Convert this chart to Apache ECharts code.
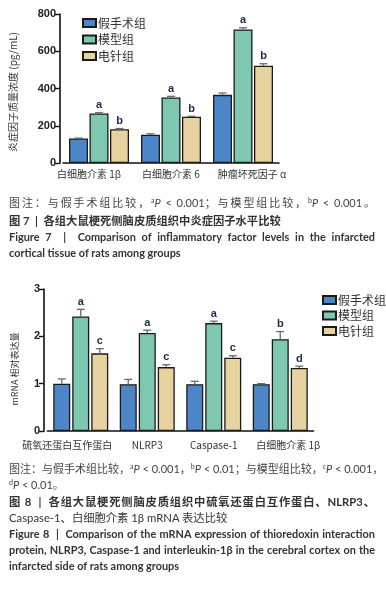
<!DOCTYPE html>
<html><head><meta charset="utf-8">
<script src="https://cdn.jsdelivr.net/npm/echarts@6/dist/echarts.min.js"></script>
<style>
html,body{margin:0;padding:0;background:#fff;}
#wrap{position:relative;width:386px;height:589px;overflow:hidden;}
#c{position:absolute;left:0;top:0;width:386px;height:589px;}
.cap{position:absolute;left:9px;width:366px;line-height:16px;white-space:nowrap;font-family:Lato,"Noto Sans CJK SC",sans-serif;}
.j{text-align:justify;text-align-last:justify;}
.note{font-size:11px;color:#444;}
.cn{font-size:11.3px;color:#333;font-weight:bold;}
.en{font-size:10.9px;color:#333;font-weight:bold;}
sup{font-size:7px;vertical-align:4px;line-height:0;}
i{font-style:italic;}
</style></head>
<body><div id="wrap"><div id="c"></div>
<div class="cap note j" style="top:195px;">图注：与假手术组比较，<sup>a</sup><i>P</i> &lt; 0.001；与模型组比较，<sup>b</sup><i>P</i> &lt; 0.001。</div>
<div class="cap cn" style="top:213px;">图 7&nbsp; | &nbsp;各组大鼠梗死侧脑皮质组织中炎症因子水平比较</div>
<div class="cap en j" style="top:229px;">Figure 7 &nbsp;| &nbsp;Comparison of inflammatory factor levels in the infarcted</div>
<div class="cap en" style="top:245px;">cortical tissue of rats among groups</div>
<div class="cap note j" style="top:461px;">图注：与假手术组比较，<sup>a</sup><i>P</i> &lt; 0.001，<sup>b</sup><i>P</i> &lt; 0.01；与模型组比较，<sup>c</sup><i>P</i> &lt; 0.001，</div>
<div class="cap note" style="top:477px;"><sup>d</sup><i>P</i> &lt; 0.01。</div>
<div class="cap cn j" style="top:494px;">图 8&nbsp; | &nbsp;各组大鼠梗死侧脑皮质组织中硫氧还蛋白互作蛋白、NLRP3、</div>
<div class="cap cn" style="top:510px;font-weight:normal;">Caspase-1、白细胞介素 1β mRNA 表达比较</div>
<div class="cap en j" style="top:526px;">Figure 8 &nbsp;| &nbsp;Comparison of the mRNA expression of thioredoxin interaction</div>
<div class="cap en j" style="top:542px;">protein, NLRP3, Caspase-1 and interleukin-1β in the cerebral cortex on the</div>
<div class="cap en" style="top:558px;">infarcted side of rats among groups</div>
</div>
<script>
// ---- Figure 7 data ----
const categories7 = ['白细胞介素 1β', '白细胞介素 6', '肿瘤坏死因子 α'];
const sham7 = [132, 152, 366];
const model7 = [266, 352, 717];
const ea7 = [181, 248, 522];
const sham7Err = [2, 5, 10];
const model7Err = [4, 6, 9];
const ea7Err = [4, 3, 11];
const sham7Sig = ['', '', ''];
const model7Sig = ['a', 'a', 'a'];
const ea7Sig = ['b', 'b', 'b'];
const yTicks7 = [0, 200, 400, 600, 800];

// ---- Figure 8 data ----
const categories8 = ['硫氧还蛋白互作蛋白', 'NLRP3', 'Caspase-1', '白细胞介素 1β'];
const sham8 = [1.00, 0.99, 0.99, 0.99];
const model8 = [2.42, 2.07, 2.28, 1.94];
const ea8 = [1.64, 1.35, 1.55, 1.33];
const sham8Err = [0.10, 0.10, 0.06, 0.01];
const model8Err = [0.15, 0.06, 0.04, 0.16];
const ea8Err = [0.10, 0.05, 0.04, 0.04];
const sham8Sig = ['', '', '', ''];
const model8Sig = ['a', 'a', 'a', 'b'];
const ea8Sig = ['c', 'c', 'c', 'd'];
const yTicks8 = [0, 1, 2, 3];

const groupNames = ['假手术组', '模型组', '电针组'];
const colors = ['#4c86c8', '#7ec8b1', '#e6d3a0'];

const chart = echarts.init(document.getElementById('c'));

function bar(name, data, gi, ci, bw, gap) {
  return {
    type: 'bar', name: name, data: data, xAxisIndex: gi, yAxisIndex: gi,
    barWidth: bw, barGap: (gap / bw * 100) + '%',
    itemStyle: { color: colors[ci], borderColor: '#1a1a1a', borderWidth: 1.3 },
    z: 2
  };
}
function errs(vals, e, sig, gi, ci, bw, gap) {
  const data = vals.map((v, i) => [i, v, e[i], sig[i]]);
  return {
    type: 'custom', xAxisIndex: gi, yAxisIndex: gi, z: 3, silent: true,
    data: data,
    renderItem: function (params, api) {
      const off = (ci - 1) * (bw + gap);
      const top = api.coord([api.value(0), api.value(1) + api.value(2)]);
      const base = api.coord([api.value(0), api.value(1)]);
      const x = top[0] + off;
      const letter = data[params.dataIndex][3];
      const ch = [
        { type: 'line', shape: { x1: x, y1: base[1], x2: x, y2: top[1] }, style: { stroke: '#6a6a6a', lineWidth: 1.3 } },
        { type: 'line', shape: { x1: x - 4, y1: top[1], x2: x + 4, y2: top[1] }, style: { stroke: '#6a6a6a', lineWidth: 1.3 } }
      ];
      if (letter) {
        ch.push({ type: 'text', style: { text: letter, x: x, y: top[1] - 2, align: 'center', verticalAlign: 'bottom',
          font: 'bold 11px "Liberation Sans", Arial, sans-serif', fill: '#1c2a4a' } });
      }
      return { type: 'group', children: ch };
    }
  };
}

const axisLineStyle = { lineStyle: { color: '#111', width: 1.6 } };
const yLabel = { color: '#222', fontSize: 11, fontWeight: 'bold', fontFamily: '"Liberation Sans", Arial, sans-serif', margin: 4 };
const xLabFont = { fontSize: 10, color: '#333', fontFamily: '"Noto Sans CJK SC", sans-serif' };

chart.setOption({
  animation: false,
  grid: [
    { left: 63, top: 14, width: 216, height: 149 },
    { left: 47.5, top: 289, width: 266, height: 142 }
  ],
  legend: [
    { data: groupNames, orient: 'vertical', left: 77, top: 12, itemWidth: 13, itemHeight: 8, itemGap: 4.5, icon: 'rect',
      textStyle: { fontSize: 12, color: '#333', padding: [0, 0, 0, -3], fontFamily: '"Noto Sans CJK SC", sans-serif' } },
    { data: groupNames, orient: 'vertical', left: 317, top: 289, itemWidth: 13, itemHeight: 8, itemGap: 3.5, icon: 'rect',
      textStyle: { fontSize: 12, color: '#333', padding: [0, 0, 0, -3], fontFamily: '"Noto Sans CJK SC", sans-serif' } }
  ],
  xAxis: [
    { type: 'category', gridIndex: 0, data: categories7, axisLine: axisLineStyle,
      axisTick: { alignWithLabel: true, length: 5, lineStyle: { color: '#111', width: 1.4 } },
      axisLabel: Object.assign({ interval: 0, margin: 6,
        formatter: (v, i) => i === 0 ? '{l|' + v + '}' : i === 2 ? '{r|' + v + '}' : '{n|' + v + '}',
        rich: { l: Object.assign({ padding: [0, 20, 0, 0] }, xLabFont), r: Object.assign({ padding: [0, 0, 0, 18] }, xLabFont), n: Object.assign({}, xLabFont) } }, xLabFont) },
    { type: 'category', gridIndex: 1, data: categories8, axisLine: axisLineStyle,
      axisTick: { alignWithLabel: true, length: 5, lineStyle: { color: '#111', width: 1.4 } },
      axisLabel: Object.assign({ interval: 0, margin: 9,
        formatter: (v, i) => i === 0 ? '{l|' + v + '}' : i === 3 ? '{r|' + v + '}' : '{n|' + v + '}',
        rich: { l: Object.assign({ padding: [0, 27, 0, 0] }, xLabFont), r: Object.assign({ padding: [0, 0, 0, 16] }, xLabFont), n: Object.assign({}, xLabFont) } }, xLabFont) }
  ],
  yAxis: [
    { type: 'value', gridIndex: 0, min: yTicks7[0], max: yTicks7[yTicks7.length - 1], interval: 200, offset: 3,
      name: '炎症因子质量浓度 (pg/mL)', nameLocation: 'middle', nameGap: 42, nameRotate: 90,
      nameTextStyle: { fontSize: 10, color: '#333', fontFamily: '"Noto Sans CJK SC", sans-serif', padding: [0, 7, 0, 0] },
      axisLine: Object.assign({ show: true }, axisLineStyle), axisTick: { show: true, length: 5, lineStyle: { color: '#111', width: 1.4 } },
      splitLine: { show: false }, axisLabel: yLabel },
    { type: 'value', gridIndex: 1, min: yTicks8[0], max: yTicks8[yTicks8.length - 1], interval: 1, offset: 3.5,
      name: 'mRNA 相对表达量', nameLocation: 'middle', nameGap: 25, nameRotate: 90,
      nameTextStyle: { fontSize: 9, color: '#333', fontFamily: '"Noto Sans CJK SC", sans-serif', padding: [0, 18, 0, 0] },
      axisLine: Object.assign({ show: true }, axisLineStyle), axisTick: { show: true, length: 5, lineStyle: { color: '#111', width: 1.4 } },
      splitLine: { show: false }, axisLabel: yLabel }
  ],
  series: [
    bar(groupNames[0], sham7, 0, 0, 19, 1.5),
    bar(groupNames[1], model7, 0, 1, 19, 1.5),
    bar(groupNames[2], ea7, 0, 2, 19, 1.5),
    errs(sham7, sham7Err, sham7Sig, 0, 0, 19, 1.5),
    errs(model7, model7Err, model7Sig, 0, 1, 19, 1.5),
    errs(ea7, ea7Err, ea7Sig, 0, 2, 19, 1.5),
    bar(groupNames[0], sham8, 1, 0, 17, 2),
    bar(groupNames[1], model8, 1, 1, 17, 2),
    bar(groupNames[2], ea8, 1, 2, 17, 2),
    errs(sham8, sham8Err, sham8Sig, 1, 0, 17, 2),
    errs(model8, model8Err, model8Sig, 1, 1, 17, 2),
    errs(ea8, ea8Err, ea8Sig, 1, 2, 17, 2)
  ]
});
</script></body></html>
